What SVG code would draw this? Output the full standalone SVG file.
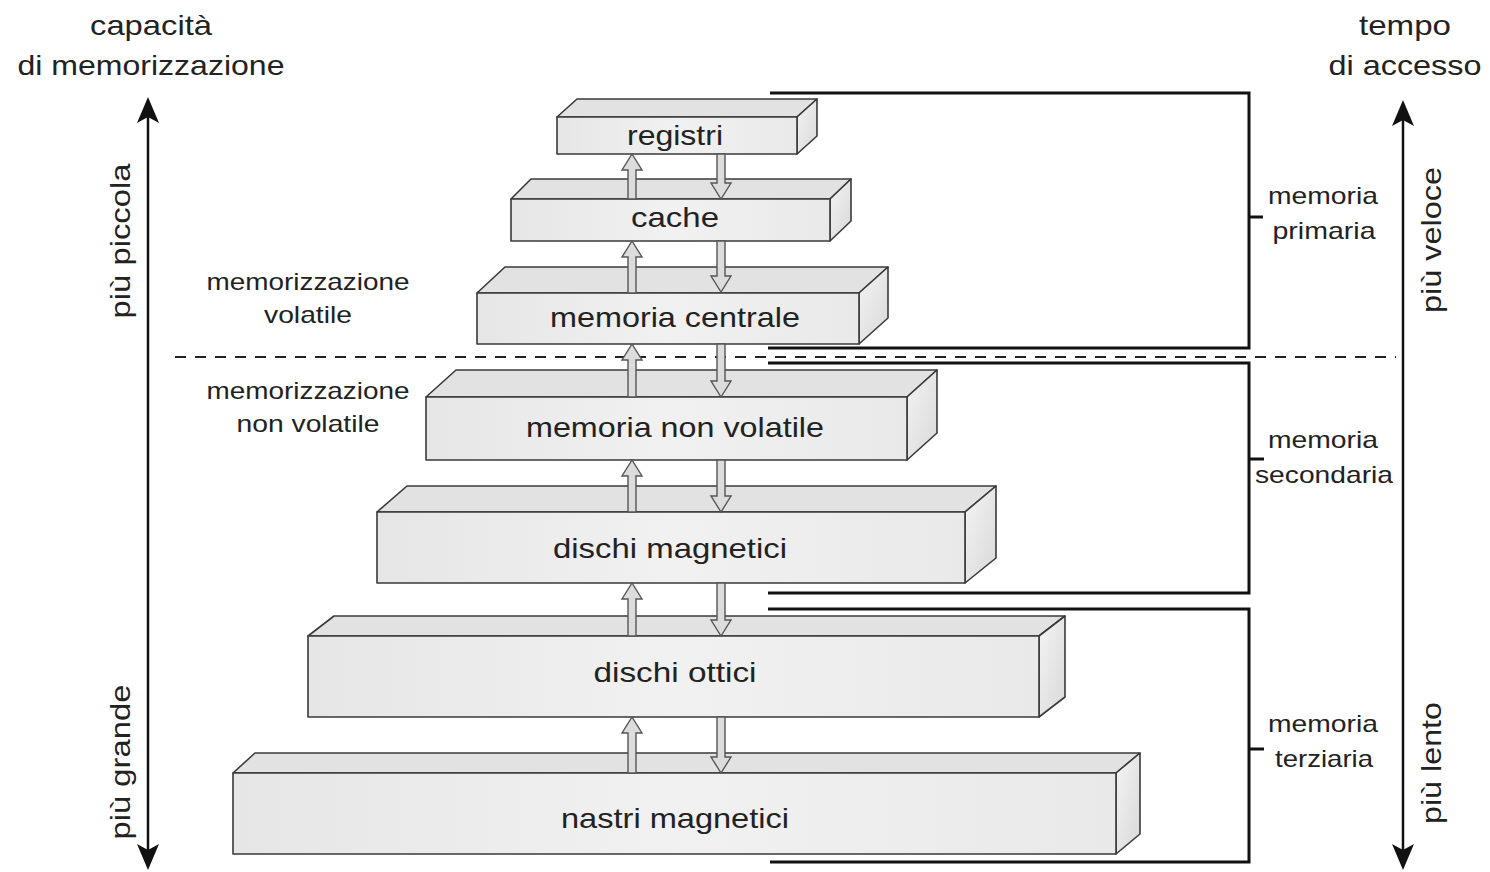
<svg xmlns="http://www.w3.org/2000/svg" width="1490" height="872" viewBox="0 0 1490 872">
<style>
text{font-family:"Liberation Sans",Arial,sans-serif;fill:#222;}
.lbl{font-size:28px;text-anchor:middle;}
.side{font-size:24px;text-anchor:middle;}
.head{font-size:28px;text-anchor:middle;}
.front{fill:url(#gFront);stroke:#3a3a3a;stroke-width:1.6;stroke-linejoin:round;}
.top{fill:#e2e2e2;stroke:#3a3a3a;stroke-width:1.6;stroke-linejoin:round;}
.side3d{fill:url(#gSide);stroke:#3a3a3a;stroke-width:1.6;stroke-linejoin:round;}
.harrow{fill:#dcdcdc;stroke:#555;stroke-width:1.4;stroke-linejoin:miter;}
.brk{fill:none;stroke:#111;stroke-width:3;}
.axis{stroke:#111;stroke-width:2.5;fill:none;}
.dash{stroke:#222;stroke-width:2;stroke-dasharray:11 9;fill:none;}
</style>
<defs>
<linearGradient id="gFront" x1="0" y1="0" x2="1" y2="0">
<stop offset="0" stop-color="#e6e6e6"/><stop offset="0.5" stop-color="#f1f1f1"/><stop offset="1" stop-color="#e9e9e9"/>
</linearGradient>
<linearGradient id="gSide" x1="0" y1="0" x2="1" y2="1">
<stop offset="0" stop-color="#f4f4f4"/><stop offset="1" stop-color="#d8d8d8"/>
</linearGradient>
<marker id="ah" viewBox="0 0 26 22" refX="20" refY="11" markerWidth="26" markerHeight="22" markerUnits="userSpaceOnUse" orient="auto-start-reverse">
<path d="M0,0 L26,11 L0,22 L6,11 Z" fill="#111"/>
</marker>
</defs>

<g id="headings">
<text class="head" x="151" y="35" textLength="122" lengthAdjust="spacingAndGlyphs">capacità</text>
<text class="head" x="151" y="75" textLength="267" lengthAdjust="spacingAndGlyphs">di memorizzazione</text>
<text class="head" x="1405" y="35" textLength="92" lengthAdjust="spacingAndGlyphs">tempo</text>
<text class="head" x="1405" y="75" textLength="153" lengthAdjust="spacingAndGlyphs">di accesso</text>
</g>

<g id="axes">
<line class="axis" x1="148" y1="864" x2="148" y2="103" marker-start="url(#ah)" marker-end="url(#ah)"/>
<line class="axis" x1="1403" y1="864" x2="1403" y2="106" marker-start="url(#ah)" marker-end="url(#ah)"/>
<text class="head" transform="translate(130,241) rotate(-90)" textLength="155" lengthAdjust="spacingAndGlyphs">più piccola</text>
<text class="head" transform="translate(130,762) rotate(-90)" textLength="155" lengthAdjust="spacingAndGlyphs">più grande</text>
<text class="head" transform="translate(1441,240) rotate(-90)" textLength="146" lengthAdjust="spacingAndGlyphs">più veloce</text>
<text class="head" transform="translate(1441,763) rotate(-90)" textLength="122" lengthAdjust="spacingAndGlyphs">più lento</text>
</g>

<g id="volatility">
<text class="side" x="308" y="290" textLength="203" lengthAdjust="spacingAndGlyphs">memorizzazione</text>
<text class="side" x="308" y="323" textLength="88" lengthAdjust="spacingAndGlyphs">volatile</text>
<text class="side" x="308" y="399" textLength="203" lengthAdjust="spacingAndGlyphs">memorizzazione</text>
<text class="side" x="308" y="432" textLength="143" lengthAdjust="spacingAndGlyphs">non volatile</text>
<line class="dash" x1="175" y1="357" x2="1396" y2="357"/>
</g>

<g id="brackets">
<polyline class="brk" points="770,93 1249,93 1249,348 768,348"/>
<line class="brk" x1="1249" y1="217" x2="1263" y2="217"/>
<text class="side" x="1323" y="204" textLength="110" lengthAdjust="spacingAndGlyphs">memoria</text>
<text class="side" x="1324" y="239" textLength="103" lengthAdjust="spacingAndGlyphs">primaria</text>
<polyline class="brk" points="768,363 1249,363 1249,593 768,593"/>
<line class="brk" x1="1249" y1="459" x2="1264" y2="459"/>
<text class="side" x="1323" y="448" textLength="110" lengthAdjust="spacingAndGlyphs">memoria</text>
<text class="side" x="1324" y="483" textLength="138" lengthAdjust="spacingAndGlyphs">secondaria</text>
<polyline class="brk" points="768,609 1249,609 1249,862 770,862"/>
<line class="brk" x1="1249" y1="749" x2="1264" y2="749"/>
<text class="side" x="1323" y="732" textLength="110" lengthAdjust="spacingAndGlyphs">memoria</text>
<text class="side" x="1324" y="767" textLength="98" lengthAdjust="spacingAndGlyphs">terziaria</text>
</g>

<g id="registri">
<polygon class="top" points="557,117 577,99 817,99 797,117"/>
<polygon class="side3d" points="797,117 817,99 817,136 797,154"/>
<rect class="front" x="557" y="117" width="240" height="37"/>
<text class="lbl" x="675" y="145" textLength="96" lengthAdjust="spacingAndGlyphs">registri</text>
</g>

<g id="cache">
<polygon class="top" points="511,199 531,179 851,179 830,199"/>
<polygon class="side3d" points="830,199 851,179 851,221 830,241"/>
<rect class="front" x="511" y="199" width="319" height="42"/>
<text class="lbl" x="675" y="227" textLength="88" lengthAdjust="spacingAndGlyphs">cache</text>
</g>

<g id="memoria-centrale">
<polygon class="top" points="477,293 505,267 888,267 859,293"/>
<polygon class="side3d" points="859,293 888,267 888,318 859,344"/>
<rect class="front" x="477" y="293" width="382" height="51"/>
<text class="lbl" x="675" y="327" textLength="250" lengthAdjust="spacingAndGlyphs">memoria centrale</text>
</g>

<g id="memoria-non-volatile">
<polygon class="top" points="426,397 456,370 937,370 907,397"/>
<polygon class="side3d" points="907,397 937,370 937,433 907,460"/>
<rect class="front" x="426" y="397" width="481" height="63"/>
<text class="lbl" x="675" y="437" textLength="298" lengthAdjust="spacingAndGlyphs">memoria non volatile</text>
</g>

<g id="dischi-magnetici">
<polygon class="top" points="377,512 407,486 996,486 965,512"/>
<polygon class="side3d" points="965,512 996,486 996,558 965,583"/>
<rect class="front" x="377" y="512" width="588" height="71"/>
<text class="lbl" x="670" y="558" textLength="234" lengthAdjust="spacingAndGlyphs">dischi magnetici</text>
</g>

<g id="dischi-ottici">
<polygon class="top" points="308,636 334,616 1065,616 1039,636"/>
<polygon class="side3d" points="1039,636 1065,616 1065,697 1039,717"/>
<rect class="front" x="308" y="636" width="731" height="81"/>
<text class="lbl" x="675" y="682" textLength="163" lengthAdjust="spacingAndGlyphs">dischi ottici</text>
</g>

<g id="nastri-magnetici">
<polygon class="top" points="233,773 255,753 1140,753 1116,773"/>
<polygon class="side3d" points="1116,773 1140,753 1140,834 1116,854"/>
<rect class="front" x="233" y="773" width="883" height="81"/>
<text class="lbl" x="675" y="828" textLength="228" lengthAdjust="spacingAndGlyphs">nastri magnetici</text>
</g>

<g id="connectors">
<path class="harrow" d="M628,199 L628,170 L622,170 L632,154 L642,170 L636,170 L636,199 Z"/>
<path class="harrow" d="M717,154 L717,183 L711,183 L721,199 L731,183 L725,183 L725,154 Z"/>
<path class="harrow" d="M628,293 L628,257 L622,257 L632,241 L642,257 L636,257 L636,293 Z"/>
<path class="harrow" d="M717,241 L717,276 L711,276 L721,292 L731,276 L725,276 L725,241 Z"/>
<path class="harrow" d="M628,397 L628,360 L622,360 L632,344 L642,360 L636,360 L636,397 Z"/>
<path class="harrow" d="M717,344 L717,381 L711,381 L721,397 L731,381 L725,381 L725,344 Z"/>
<path class="harrow" d="M628,512 L628,476 L622,476 L632,460 L642,476 L636,476 L636,512 Z"/>
<path class="harrow" d="M717,460 L717,496 L711,496 L721,512 L731,496 L725,496 L725,460 Z"/>
<path class="harrow" d="M628,636 L628,599 L622,599 L632,583 L642,599 L636,599 L636,636 Z"/>
<path class="harrow" d="M717,583 L717,620 L711,620 L721,636 L731,620 L725,620 L725,583 Z"/>
<path class="harrow" d="M628,773 L628,733 L622,733 L632,717 L642,733 L636,733 L636,773 Z"/>
<path class="harrow" d="M717,717 L717,757 L711,757 L721,773 L731,757 L725,757 L725,717 Z"/>
</g>
</svg>
